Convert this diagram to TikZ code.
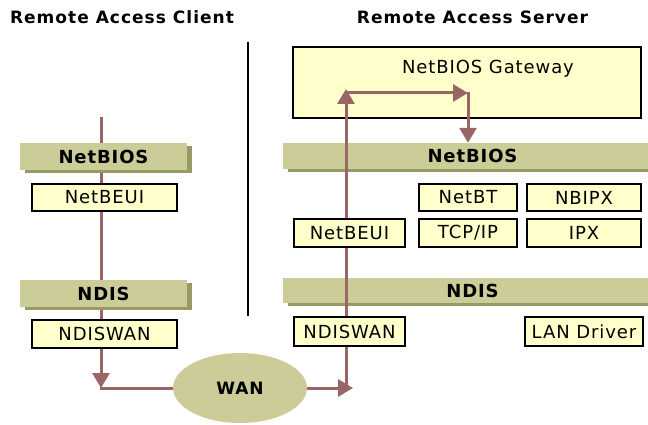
\documentclass[tikz,border=0pt]{standalone}
\usepackage{fontspec}
\setmainfont{DejaVu Sans}
\newfontfamily\boxfont[LetterSpace=5]{DejaVu Sans}
\newfontfamily\barfont[LetterSpace=5]{DejaVu Sans Bold}
\newfontfamily\headfont[LetterSpace=6]{DejaVu Sans Bold}
\usetikzlibrary{arrows.meta,shapes.geometric,shadows}
\definecolor{boxfill}{HTML}{FFFFCC}
\definecolor{barfill}{HTML}{CCCC99}
\definecolor{barshade}{HTML}{999966}
\definecolor{flowcol}{HTML}{996666}
\pgfdeclarelayer{lowest}
\pgfdeclarelayer{bars}
\pgfdeclarelayer{flows}
\pgfsetlayers{lowest,bars,flows,main}
\begin{document}
\begin{tikzpicture}[x=1pt,y=-1pt,
  title/.style={inner sep=0pt, font=\headfont\fontsize{17}{20}\selectfont},
  box/.style={draw=black, line width=1.5pt, fill=boxfill, inner sep=0pt,
    font=\boxfont\fontsize{18}{21}\selectfont},
  bar/.style={fill=barfill, inner sep=0pt, font=\barfont\fontsize{18}{21}\selectfont,
    drop shadow={shadow xshift=5pt, shadow yshift=-3pt, fill=barshade, opacity=1}},
  flow/.style={draw=flowcol, line width=3pt},
  tip/.style={-{Triangle[length=15pt,width=17pt]}}
]
\useasboundingbox (0,0) rectangle (648,425);

% headings and divider
\node[title] (tclient) at (122,17) {Remote Access Client};
\node[title] (tserver) at (472.5,17) {Remote Access Server};
\coordinate (dtop) at (248,42);
\coordinate (dbot) at (248,316);
\draw[line width=1.2pt] (dtop) -- (dbot);

% client stack
\begin{pgfonlayer}{bars}
\node[bar, minimum width=167pt, minimum height=27pt] (cnetbios) at (103.5,156.5) {NetBIOS};
\node[bar, minimum width=167pt, minimum height=27pt] (cndis) at (103.5,293.5) {NDIS};
\end{pgfonlayer}
\node[box, minimum width=145pt, minimum height=27pt] (cnetbeui) at (104.5,197.5) {NetBEUI};
\node[box, minimum width=145pt, minimum height=28pt] (cndiswan) at (104.5,334) {NDISWAN};

% WAN cloud
\node[ellipse, fill=barfill, inner sep=0pt, minimum width=134pt, minimum height=70pt,
  font=\barfont\fontsize{17}{20}\selectfont] (wan) at (240,388) {WAN};

% server stack
\begin{pgfonlayer}{bars}
\node[box, minimum width=348pt, minimum height=71pt] (gateway) at (467,82.5) {};
\node[bar, minimum width=379pt, minimum height=26pt] (snetbios) at (472.5,156) {NetBIOS};
\node[bar, minimum width=379pt, minimum height=25pt] (sndis) at (472.5,290.5) {NDIS};
\end{pgfonlayer}
\node[box, draw=none, fill=none] (gwtext) at (488,69) {NetBIOS Gateway};
\node[box, minimum width=98pt, minimum height=27pt] (netbt) at (468,197.5) {NetBT};
\node[box, minimum width=114pt, minimum height=27pt] (nbipx) at (584,197.5) {NBIPX};
\node[box, minimum width=111pt, minimum height=28pt] (snetbeui) at (349.5,233) {NetBEUI};
\node[box, minimum width=98pt, minimum height=28pt] (tcpip) at (468,233) {TCP/IP};
\node[box, minimum width=114pt, minimum height=28pt] (ipx) at (584,233) {IPX};
\node[box, minimum width=111pt, minimum height=29pt] (sndiswan) at (349.5,331.5) {NDISWAN};
\node[box, minimum width=118pt, minimum height=29pt] (landrv) at (584,331.5) {LAN Driver};

% client data path
\coordinate (cstart) at (101,117);
\coordinate (ccorner) at (101,388);
\begin{pgfonlayer}{lowest}
\draw[flow, tip] (cstart) -- (ccorner);
\draw[flow, line cap=rect] (ccorner) -- (wan.west);
\end{pgfonlayer}

% server data path
\coordinate (sin) at (353,388);
\coordinate (sbot) at (346,389.5);
\coordinate (stop) at (346,89);
\coordinate (sleft) at (346,93);
\coordinate (sright) at (468,93);
\coordinate (sdown) at (468,92);
\begin{pgfonlayer}{flows}
\draw[flow, tip] (wan.east) -- (sin);
\draw[flow, tip] (sbot) -- (stop);
\draw[flow, tip] (sleft) -- (sright);
\draw[flow, tip] (sdown) -- (sdown |- snetbios.north);
\end{pgfonlayer}
\end{tikzpicture}
\end{document}
